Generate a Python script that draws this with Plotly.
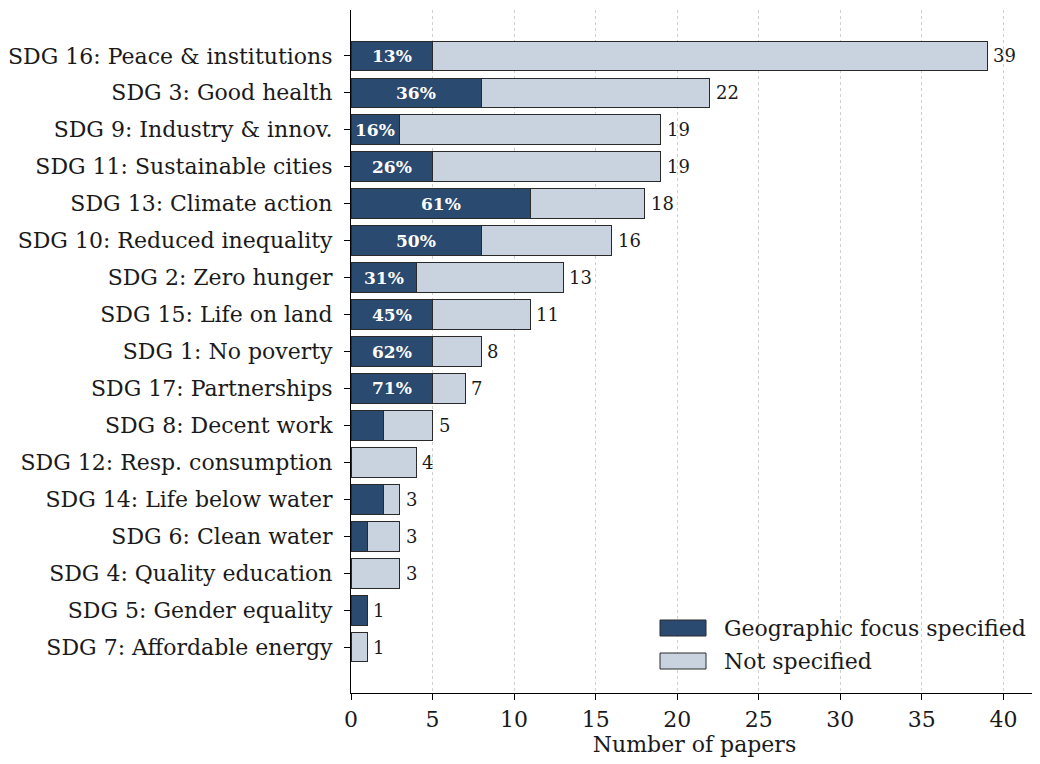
import plotly.graph_objects as go

categories = ["SDG 16: Peace & institutions", "SDG 3: Good health", "SDG 9: Industry & innov.",
              "SDG 11: Sustainable cities", "SDG 13: Climate action", "SDG 10: Reduced inequality",
              "SDG 2: Zero hunger", "SDG 15: Life on land", "SDG 1: No poverty", "SDG 17: Partnerships",
              "SDG 8: Decent work", "SDG 12: Resp. consumption", "SDG 14: Life below water",
              "SDG 6: Clean water", "SDG 4: Quality education", "SDG 5: Gender equality",
              "SDG 7: Affordable energy"]
totals = [39, 22, 19, 19, 18, 16, 13, 11, 8, 7, 5, 4, 3, 3, 3, 1, 1]
geo = [5, 8, 3, 5, 11, 8, 4, 5, 5, 5, 2, 0, 2, 1, 0, 1, 0]
not_spec = [t - g for t, g in zip(totals, geo)]
x_ticks = [0, 5, 10, 15, 20, 25, 30, 35, 40]

DARK = "#2b4a6f"
LIGHT = "#c9d3df"
EDGE = "#2a2a2a"
FONT = "DejaVu Serif"
TXT = "#1a1a1a"

fig = go.Figure()
fig.add_trace(go.Bar(y=categories, x=geo, orientation="h", name="Geographic focus specified",
                     marker=dict(color=DARK, line=dict(color=EDGE, width=1)), width=0.8,
                     showlegend=False))
fig.add_trace(go.Bar(y=categories, x=not_spec, orientation="h", name="Not specified",
                     marker=dict(color=LIGHT, line=dict(color=EDGE, width=1)), width=0.8,
                     showlegend=False))

annotations = []
for c, t, g in zip(categories, totals, geo):
    annotations.append(dict(x=t, y=c, xref="x", yref="y", text=str(t), showarrow=False,
                            xanchor="left", xshift=4, font=dict(family=FONT, size=18, color=TXT)))
    if g >= 3:
        annotations.append(dict(x=g / 2, y=c, xref="x", yref="y", text=f"<b>{round(100 * g / t)}%</b>",
                                showarrow=False, xanchor="center",
                                font=dict(family=FONT, size=17, color="white")))

# page offset (default body margin) is 8px; figure sized to avoid scrollbars
OFF = 8
W, H = 1032, 756
ml, mr, mt, mb = 351 - OFF, 2, 10 - OFF, 71
pw, ph = W - ml - mr, H - mt - mb
def px_x(p):
    return (p - OFF - ml) / pw
def px_y(p):
    return 1 - (p - OFF - mt) / ph

legend_items = [("Geographic focus specified", DARK), ("Not specified", LIGHT)]
shapes = []
for i, (name, col) in enumerate(legend_items):
    y0 = 620 + i * 33
    shapes.append(dict(type="rect", xref="paper", yref="paper",
                       x0=px_x(660), x1=px_x(706), y0=px_y(y0 + 16), y1=px_y(y0),
                       fillcolor=col, line=dict(color=EDGE, width=1)))
    annotations.append(dict(x=px_x(722), y=px_y(y0 + 8), xref="paper", yref="paper", text=name,
                            showarrow=False, xanchor="left", yanchor="middle",
                            font=dict(family=FONT, size=22, color=TXT)))

fig.update_layout(
    barmode="stack",
    width=W, height=H,
    margin=dict(l=ml, r=mr, t=mt, b=mb, autoexpand=False),
    plot_bgcolor="white", paper_bgcolor="white",
    font=dict(family=FONT, size=22, color=TXT),
    annotations=annotations, shapes=shapes,
)
fig.update_xaxes(range=[0, 42.12], tickvals=x_ticks, showline=True, linecolor="black", linewidth=1.2,
                 ticks="outside", ticklen=6, tickcolor="black",
                 showgrid=True, gridcolor="#d0d0d0", griddash="dot", gridwidth=1,
                 zeroline=False, title=dict(text="Number of papers", font=dict(size=22), standoff=6),
                 tickfont=dict(size=22))
fig.update_yaxes(type="category", categoryorder="array", categoryarray=categories,
                 range=[len(categories) - 1 + 1.24, -1.24],
                 showline=True, linecolor="black", linewidth=1.2, ticks="outside", ticklen=6,
                 tickcolor="black", showgrid=False, tickfont=dict(size=22), ticksuffix=" ")
fig.write_html("out.html")
